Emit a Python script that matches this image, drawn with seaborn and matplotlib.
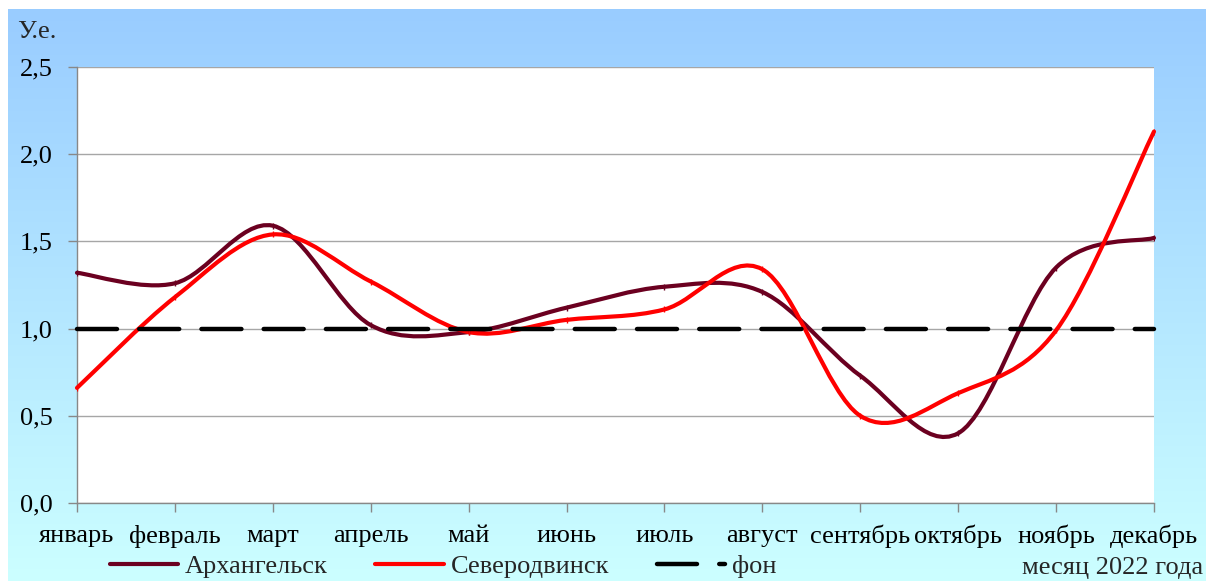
import numpy as np
import pandas as pd
import matplotlib
matplotlib.use("Agg")
import matplotlib.pyplot as plt
import seaborn as sns
from matplotlib.path import Path
from matplotlib.patches import PathPatch
from matplotlib.lines import Line2D
from matplotlib.colors import LinearSegmentedColormap

# ---- data ----
months = ["январь", "февраль", "март", "апрель", "май", "июнь",
          "июль", "август", "сентябрь", "октябрь", "ноябрь", "декабрь"]
arkhangelsk = [1.32, 1.26, 1.59, 1.02, 0.98, 1.12, 1.24, 1.21, 0.73, 0.40, 1.35, 1.52]
severodvinsk = [0.66, 1.18, 1.54, 1.27, 0.98, 1.05, 1.11, 1.34, 0.50, 0.63, 0.99, 2.13]
fon = [1.0] * 12
yticks = [0.0, 0.5, 1.0, 1.5, 2.0, 2.5]
ytick_labels = ["0,0", "0,5", "1,0", "1,5", "2,0", "2,5"]

C_ARK = "#6B0020"
C_SEV = "#FF0000"
C_FON = "#000000"
FS = 19

sns.set_theme(style="white")
plt.rcParams['font.family'] = ['Liberation Serif', 'DejaVu Serif']

W, H = 1206, 581
fig = plt.figure(figsize=(W / 100, H / 100), dpi=100)
fig.patch.set_facecolor("white")

# gradient background
bg = fig.add_axes([8 / W, 0, 1 - 8 / W, 1 - 9 / H], zorder=-10)
grad = np.linspace(0, 1, 256).reshape(-1, 1)
cmap = LinearSegmentedColormap.from_list("bg", ["#99CCFF", "#CCFFFF"])
bg.imshow(grad, aspect="auto", cmap=cmap, extent=[0, 1, 0, 1], origin="upper")
bg.axis("off")

ax = fig.add_axes([77 / W, 1 - 503 / H, (1154 - 77) / W, (503 - 67) / H])
ax.set_facecolor("white")

x = np.arange(len(months))
df = pd.DataFrame({"x": x, "Архангельск": arkhangelsk,
                   "Северодвинск": severodvinsk, "фон": fon})


def smooth_path(xs, ys):
    P = np.column_stack([xs, ys]).astype(float)
    n = len(P)
    verts = [P[0]]
    codes = [Path.MOVETO]
    for i in range(n - 1):
        p0 = P[i - 1] if i > 0 else P[i]
        p1 = P[i]
        p2 = P[i + 1]
        p3 = P[i + 2] if i + 2 < n else P[i + 1]
        c1 = p1 + (p2 - p0) / 6.0
        c2 = p2 - (p3 - p1) / 6.0
        verts += [c1, c2, p2]
        codes += [Path.CURVE4] * 3
    return Path(verts, codes)


for col, color in [("Архангельск", C_ARK), ("Северодвинск", C_SEV)]:
    patch = PathPatch(smooth_path(df["x"], df[col]), facecolor="none",
                      edgecolor=color, lw=3, capstyle="round",
                      joinstyle="round", clip_on=False, zorder=3)
    ax.add_patch(patch)
    sns.scatterplot(data=df, x="x", y=col, ax=ax, color=color, marker="|",
                    s=14, linewidth=1.0, zorder=4, legend=False)

sns.lineplot(data=df, x="x", y="фон", ax=ax, color=C_FON, lw=3.2, zorder=5,
             legend=False)
fon_line = ax.lines[-1]
fon_line.set_dashes((9.0, 5.0))
fon_line.set_dash_capstyle("round")
fon_line.set_clip_on(False)

ax.set_xlim(0, 11)
ax.set_ylim(0, 2.5)
ax.set_xticks(x)
ax.set_xticklabels(months)
ax.set_yticks(yticks)
ax.set_yticklabels(ytick_labels)
ax.set_xlabel("")
ax.set_ylabel("")

ax.yaxis.grid(True, color="#A6A6A6", lw=1)
ax.xaxis.grid(False)
for s in ["top", "right"]:
    ax.spines[s].set_visible(False)
for s in ["left", "bottom"]:
    ax.spines[s].set_color("#888888")
    ax.spines[s].set_linewidth(1)
ax.tick_params(axis="both", which="both", bottom=True, left=True,
               direction="out", length=6.5, width=1, color="#888888",
               labelsize=FS, labelcolor="black")
ax.tick_params(axis="y", pad=11)
ax.tick_params(axis="x", pad=9)

fig.text(17 / W, 1 - 32 / H, "У.е.", ha="left", va="center", fontsize=FS)
fig.text(1203 / W, 1 - 568 / H, "месяц 2022 года", ha="right", va="center",
         fontsize=FS)

handles = [
    Line2D([], [], color=C_ARK, lw=3, solid_capstyle="round"),
    Line2D([], [], color=C_SEV, lw=3, solid_capstyle="round"),
    Line2D([], [], color=C_FON, lw=3.2, dashes=(9.0, 5.0),
           dash_capstyle="round"),
]
fig.legend(handles, ["Архангельск", "Северодвинск", "фон"], loc="center",
           bbox_to_anchor=(443 / W, 1 - 566 / H), ncol=3, frameon=False,
           fontsize=FS, handlelength=2.6, handletextpad=0.25,
           columnspacing=1.8, borderpad=0)

fig.savefig("out.png", dpi=100)
